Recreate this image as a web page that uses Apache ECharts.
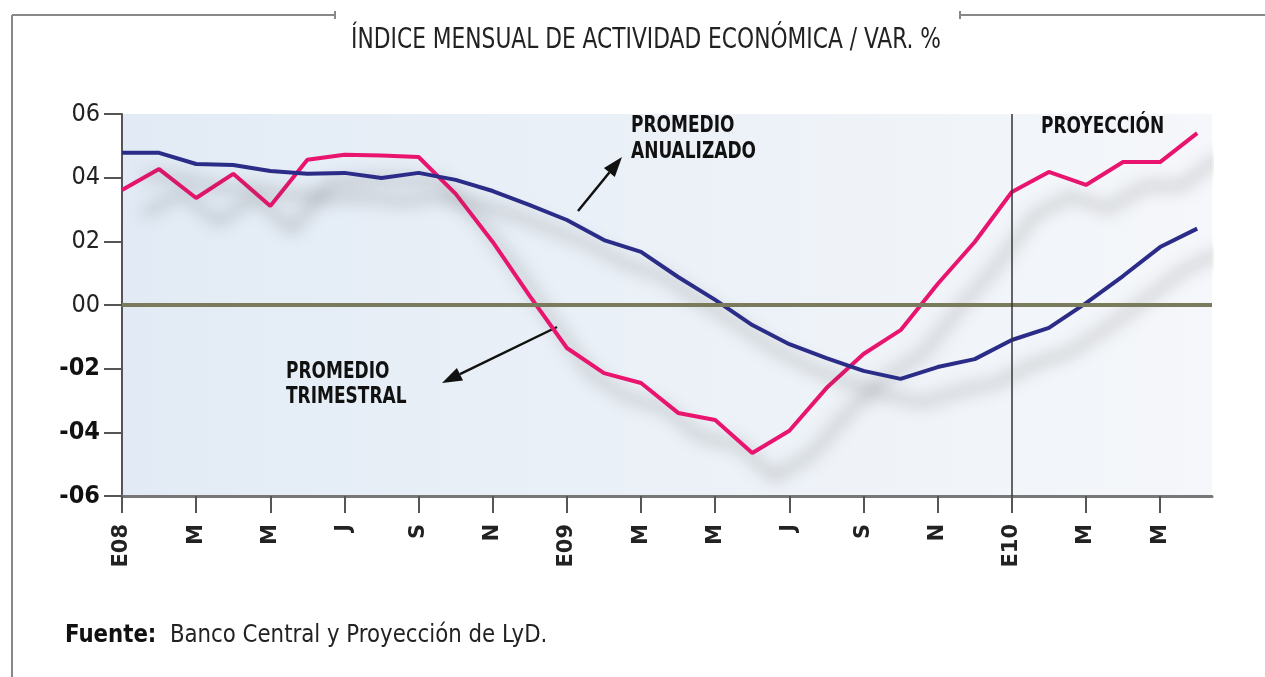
<!DOCTYPE html>
<html><head><meta charset="utf-8">
<script src="https://cdn.jsdelivr.net/npm/echarts@6/dist/echarts.min.js"></script>
<style>html,body{margin:0;padding:0;background:#fff}#c{width:1265px;height:677px}</style>
</head><body><div id="c"></div>
<script>
// Months Jan 2008 .. Jun 2010 (index 0..29)
const tickMonths = [0,2,4,6,8,10,12,14,16,18,20,22,24,26,28];
const tickLabels = ['E08','M','M','J','S','N','E09','M','M','J','S','N','E10','M','M'];
const promedioTrimestral = [3.61,4.27,3.36,4.12,3.11,4.56,4.72,4.70,4.65,3.49,1.98,0.28,-1.35,-2.14,-2.45,-3.39,-3.61,-4.65,-3.95,-2.61,-1.54,-0.79,0.66,1.98,3.55,4.18,3.77,4.49,4.49,5.40];
const promedioAnualizado = [4.78,4.78,4.43,4.40,4.21,4.12,4.15,3.99,4.15,3.93,3.58,3.14,2.67,2.04,1.67,0.88,0.16,-0.63,-1.23,-1.67,-2.07,-2.32,-1.95,-1.70,-1.10,-0.72,0.06,0.91,1.82,2.40];
const yTicks = [-6,-4,-2,0,2,4,6];
const proyeccionDesde = 24;

const narrow = '"Liberation Sans Narrow","DejaVu Sans Condensed",sans-serif';
const chart = echarts.init(document.getElementById('c'), null, {renderer:'canvas'});

function arrow(x1,y1,x2,y2){
  const ang = Math.atan2(y2-y1,x2-x1), L=20, W=7;
  const bx = x2 - L*Math.cos(ang), by = y2 - L*Math.sin(ang);
  const px = -Math.sin(ang)*W, py = Math.cos(ang)*W;
  return [
    {type:'line', shape:{x1:x1,y1:y1,x2:bx,y2:by}, style:{stroke:'#111',lineWidth:2.5}},
    {type:'polygon', shape:{points:[[x2,y2],[bx+px,by+py],[bx-px,by-py]]}, style:{fill:'#111'}}
  ];
}
function label(txt,x,y){
  return {type:'text', x:x, y:y, scaleX:0.9, scaleY:1.08, style:{text:txt, font:'bold 21px '+narrow, fill:'#111', textVerticalAlign:'middle'}};
}

const shadow = {shadowColor:'rgba(70,70,70,0.5)', shadowBlur:16, shadowOffsetX:22, shadowOffsetY:24};

chart.setOption({
  animation:false,
  backgroundColor:'#fff',
  grid:{left:122, right:53, top:114, bottom:181, show:true, borderWidth:0,
    backgroundColor:new echarts.graphic.LinearGradient(0,0,1,0,[{offset:0,color:'#e2ebf5'},{offset:1,color:'#f5f7fa'}])},
  xAxis:{type:'value', min:0, max:29.4, interval:2,
    axisLine:{onZero:false, lineStyle:{color:'#777', width:3}},
    axisTick:{customValues:tickMonths, length:17, lineStyle:{color:'#555', width:2}},
    axisLabel:{customValues:tickMonths, rotate:90, margin:28, color:'#222',
      fontFamily:'"DejaVu Sans",sans-serif', fontSize:21, fontWeight:'bold',
      formatter:v=>{const i=tickMonths.indexOf(Math.round(v)); return i>=0?tickLabels[i]:'';}},
    splitLine:{show:false}},
  yAxis:{type:'value', min:-6, max:6, interval:2,
    axisLine:{show:true, lineStyle:{color:'#555', width:2}},
    axisTick:{show:true, length:18, lineStyle:{color:'#555', width:2}},
    axisLabel:{margin:22, formatter:v=>{const s=String(Math.abs(v)).padStart(2,'0'); return v<0?'{n|-'+s+'}':'{p|'+s+'}';},
      rich:{n:{fontFamily:narrow,fontSize:25,fontWeight:'bold',color:'#111'},p:{fontFamily:narrow,fontSize:25,color:'#222'}}},
    splitLine:{show:false}},
  series:[
    {type:'line', name:'PROMEDIO TRIMESTRAL', symbol:'none', z:3,
      data:promedioTrimestral.map((v,i)=>[i,v]),
      lineStyle:Object.assign({color:'#e8146e', width:4}, shadow),
      markLine:{silent:true, symbol:'none', label:{show:false},
        data:[{yAxis:0, lineStyle:{color:'#7a7a5c', width:4, type:'solid'}},
              {xAxis:proyeccionDesde, lineStyle:{color:'#333', width:1.5, type:'solid'}}]}},
    {type:'line', name:'PROMEDIO ANUALIZADO', symbol:'none', z:4,
      data:promedioAnualizado.map((v,i)=>[i,v]),
      lineStyle:Object.assign({color:'#2b2c88', width:4}, shadow)}
  ],
  graphic:[
    {type:'line', shape:{x1:12,y1:15,x2:335,y2:15}, style:{stroke:'#888',lineWidth:2}},
    {type:'line', shape:{x1:960,y1:15,x2:1265,y2:15}, style:{stroke:'#888',lineWidth:2}},
    {type:'line', shape:{x1:335,y1:11,x2:335,y2:19}, style:{stroke:'#888',lineWidth:2}},
    {type:'line', shape:{x1:960,y1:11,x2:960,y2:19}, style:{stroke:'#888',lineWidth:2}},
    {type:'line', shape:{x1:12,y1:15,x2:12,y2:677}, style:{stroke:'#888',lineWidth:2}},
    {type:'text', x:646, y:41, scaleX:0.93, scaleY:1.1, style:{text:'ÍNDICE MENSUAL DE ACTIVIDAD ECONÓMICA / VAR. %', font:'26px '+narrow, fill:'#222', textAlign:'center', textVerticalAlign:'middle'}},
    label('PROMEDIO',631,126), label('ANUALIZADO',631,152),
    label('PROMEDIO',286,372), label('TRIMESTRAL',286,397),
    label('PROYECCIÓN',1041,127),
    {type:'text', x:65, y:636, scaleX:1.03, scaleY:1.08, style:{rich:{b:{font:'bold 23px '+narrow, fill:'#111'}, r:{font:'23px '+narrow, fill:'#222'}}, text:'{b|Fuente:}{r|  Banco Central y Proyección de LyD.}', textVerticalAlign:'middle'}}
  ].concat(arrow(578,211,622,157), arrow(557,327,442,383))
});
</script></body></html>
